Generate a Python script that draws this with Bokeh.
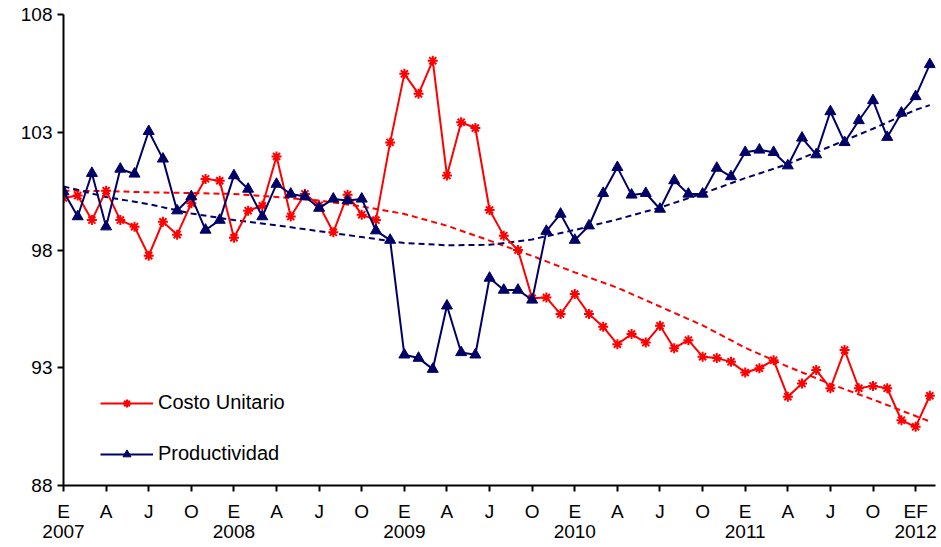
from bokeh.plotting import figure
from bokeh.models import LinearAxis, FixedTicker, Range1d, Legend, LegendItem
from bokeh.embed import file_html
from bokeh.resources import INLINE

# month index 0 = Jan 2007 ... 61 = Feb 2012
months = list(range(62))

costo_unitario = [100.21, 100.31, 99.27, 100.52, 99.27, 98.99, 97.76, 99.20, 98.65, 99.98, 101.02, 100.94,
                  98.52, 99.67, 99.88, 101.97, 99.42, 100.38, 99.90, 98.75, 100.35, 99.50, 99.27, 102.57,
                  105.48, 104.63, 106.04, 101.16, 103.42, 103.18, 99.70, 98.61, 98.00, 95.95, 95.98, 95.28,
                  96.13, 95.28, 94.74, 94.00, 94.43, 94.07, 94.78, 93.83, 94.17, 93.47, 93.41, 93.25,
                  92.80, 92.98, 93.32, 91.77, 92.33, 92.90, 92.13, 93.75, 92.13, 92.23, 92.13, 90.77,
                  90.49, 91.81]

productividad = [100.48, 99.42, 101.26, 98.99, 101.44, 101.23, 103.04, 101.87, 99.67, 100.27, 98.85, 99.27,
                 101.16, 100.59, 99.42, 100.80, 100.38, 100.27, 99.78, 100.17, 100.10, 100.17, 98.82, 98.42,
                 93.55, 93.41, 92.94, 95.63, 93.65, 93.55, 96.81, 96.30, 96.30, 95.88, 98.80, 99.53,
                 98.42, 99.03, 100.41, 101.51, 100.34, 100.41, 99.74, 100.95, 100.38, 100.38, 101.48, 101.12,
                 102.15, 102.25, 102.15, 101.58, 102.76, 102.05, 103.88, 102.57, 103.50, 104.35, 102.79, 103.82,
                 104.52, 105.88]

# trend lines
trend_months = [0, 3, 6, 9, 12, 15, 18, 21, 24, 27, 30, 33, 36, 39, 42, 45, 48, 51, 54, 57, 60, 61]
trend_costo = [100.52, 100.50, 100.45, 100.42, 100.38, 100.25, 100.10, 99.85, 99.53, 99.03, 98.40, 97.75,
               97.05, 96.40, 95.60, 94.80, 93.85, 93.05, 92.31, 91.65, 90.95, 90.72]
trend_prod = [100.70, 100.25, 99.95, 99.55, 99.27, 99.05, 98.80, 98.55, 98.30, 98.20, 98.22, 98.45,
              98.85, 99.30, 99.80, 100.40, 101.05, 101.65, 102.40, 103.15, 103.95, 104.15]

month_ticks = [0, 3, 6, 9, 12, 15, 18, 21, 24, 27, 30, 33, 36, 39, 42, 45, 48, 51, 54, 57, 60]
month_labels = ["E", "A", "J", "O", "E", "A", "J", "O", "E", "A", "J", "O",
                "E", "A", "J", "O", "E", "A", "J", "O", "EF"]
year_ticks = [0, 12, 24, 36, 48, 60]
year_labels = ["2007", "2008", "2009", "2010", "2011", "2012"]
y_ticks = [88, 93, 98, 103, 108]

RED = "#FF0000"
NAVY = "#000066"
FONT = "Liberation Sans"

p = figure(width=940, height=546, output_backend="svg", toolbar_location=None,
           x_range=Range1d(0, 61.4), y_range=Range1d(88, 108),
           min_border_left=63, min_border_right=5, min_border_top=14, min_border_bottom=61,
           outline_line_color=None, background_fill_color="white")

p.xgrid.visible = False
p.ygrid.visible = False

# y axis
p.yaxis.ticker = FixedTicker(ticks=y_ticks)
p.yaxis.minor_tick_line_color = None
p.yaxis.major_tick_in = 0
p.yaxis.major_tick_out = 6
p.yaxis.axis_line_width = 2
p.yaxis.major_tick_line_width = 2
p.yaxis.axis_line_color = "black"
p.yaxis.major_label_text_font = FONT
p.yaxis.major_label_text_font_size = "19px"
p.yaxis.major_label_text_color = "black"
p.yaxis.major_label_standoff = 5

# x axis (months)
xa = p.xaxis[0]
xa.ticker = FixedTicker(ticks=month_ticks)
xa.major_label_overrides = {t: l for t, l in zip(month_ticks, month_labels)}
xa.minor_tick_line_color = None
xa.major_tick_in = 0
xa.major_tick_out = 6
xa.axis_line_width = 2
xa.major_tick_line_width = 2
xa.axis_line_color = "black"
xa.major_label_text_font = FONT
xa.major_label_text_font_size = "19px"
xa.major_label_text_color = "black"
xa.major_label_standoff = 9

# x axis (years)
ya = LinearAxis(ticker=FixedTicker(ticks=year_ticks),
                major_label_overrides={t: l for t, l in zip(year_ticks, year_labels)},
                axis_line_color=None, major_tick_line_color=None, minor_tick_line_color=None,
                major_tick_in=0, major_tick_out=0, major_label_standoff=0,
                major_label_text_font=FONT, major_label_text_font_size="19px",
                major_label_text_color="black")
p.add_layout(ya, "below")

# trend lines
p.line(trend_months, trend_costo, line_color=RED, line_width=2, line_dash="6 4")
p.line(trend_months, trend_prod, line_color=NAVY, line_width=2, line_dash="6 4")

# series
l1 = p.line(months, costo_unitario, line_color=RED, line_width=2)
s1 = p.scatter(months, costo_unitario, marker="asterisk", size=10, line_color=RED, line_width=2)
l2 = p.line(months, productividad, line_color=NAVY, line_width=2)
s2 = p.scatter(months, productividad, marker="triangle", size=11, fill_color=NAVY, line_color=NAVY)

legend = Legend(items=[LegendItem(label="Costo Unitario", renderers=[l1, s1]),
                       LegendItem(label="Productividad", renderers=[l2, s2])],
                location=(37, 20), orientation="vertical",
                glyph_width=53, glyph_height=20, label_height=20, spacing=28,
                label_standoff=5, padding=0, margin=0,
                border_line_color=None, background_fill_alpha=0,
                label_text_font=FONT, label_text_font_size="20px", label_text_color="black")
p.add_layout(legend, "center")

open("out.html", "w").write(file_html(p, INLINE))
